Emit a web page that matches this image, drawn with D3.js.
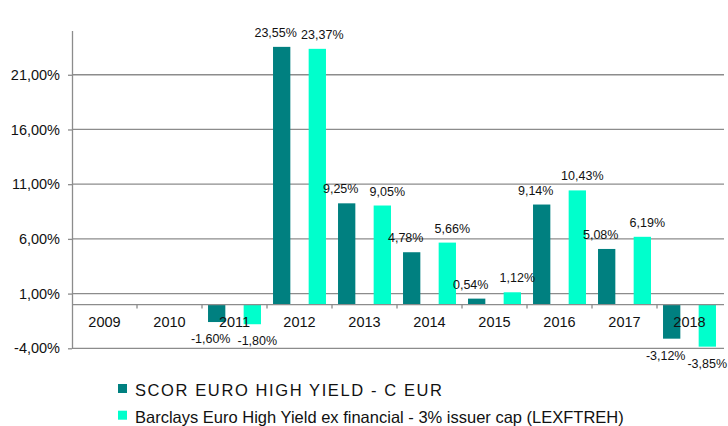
<!DOCTYPE html>
<html lang="en">
<head>
<meta charset="utf-8">
<script src="https://cdn.jsdelivr.net/npm/d3@7"></script>
<style>
  body { margin: 0; background: #fff; }
  svg { display: block; font-family: "Liberation Sans", Arial, sans-serif; }
</style>
</head>
<body>
<script>
// data
const years = ['2009', '2010', '2011', '2012', '2013', '2014', '2015', '2016', '2017', '2018'];
const seriesNames = ['SCOR EURO HIGH YIELD - C EUR', 'Barclays Euro High Yield ex financial - 3% issuer cap (LEXFTREH)'];
const scorValues = [null, null, -1.60, 23.55, 9.25, 4.78, 0.54, 9.14, 5.08, -3.12];
const barclaysValues = [null, null, -1.80, 23.37, 9.05, 5.66, 1.12, 10.43, 6.19, -3.85];
const yTicks = [-4, 1, 6, 11, 16, 21];

const colors = ['#008080', '#00ffcc'];
const labelShift = [-6, 5];          // excel nudges the labels apart a little
const legendSpacing = ['1.6px', '0px'];
const w = 728, h = 426;
const margin = { left: 72, right: 722, top: 31, bottom: 348.3 };

const fmt = d => d.toFixed(2).replace('.', ',') + '%';

const svg = d3.select('body').append('svg')
  .attr('width', w)
  .attr('height', h);

const x = d3.scaleBand().domain(years).range([margin.left, margin.right]).padding(0);
const x1 = d3.scaleBand().domain([0, 1]).range([0, x.bandwidth()])
  .paddingInner(0.514).paddingOuter(0.169);
const y = d3.scaleLinear().domain([-4, 25]).range([margin.bottom, margin.top]);

// gridlines
svg.append('g').selectAll('line')
  .data(yTicks)
  .enter().append('line')
  .attr('x1', margin.left).attr('x2', w - 4)
  .attr('y1', d => y(d)).attr('y2', d => y(d))
  .attr('stroke', '#8c8c8c').attr('stroke-width', 1.3);

// y axis
const yAxis = svg.append('g')
  .attr('transform', `translate(${margin.left},0)`)
  .call(d3.axisLeft(y).tickValues(yTicks).tickFormat(fmt).tickSize(4).tickPadding(8));
yAxis.select('.domain').attr('stroke', '#8c8c8c').attr('stroke-width', 1.3)
  .attr('d', `M0.5,${margin.top}V${margin.bottom}`);
yAxis.selectAll('.tick line').attr('stroke', '#8c8c8c').attr('stroke-width', 1.3);
yAxis.selectAll('.tick text').attr('font-size', 14.5).attr('fill', '#111')
  .attr('font-family', '"Liberation Sans", Arial, sans-serif');

// bars
const series = [scorValues, barclaysValues];
const bars = [];
series.forEach((vals, s) => {
  vals.forEach((v, i) => {
    if (v !== null) bars.push({ year: years[i], s: s, v: v });
  });
});

svg.append('g').selectAll('rect')
  .data(bars)
  .enter().append('rect')
  .attr('x', d => x(d.year) + x1(d.s))
  .attr('width', x1.bandwidth())
  .attr('y', d => y(Math.max(0, d.v)))
  .attr('height', d => Math.abs(y(d.v) - y(0)))
  .attr('fill', d => colors[d.s]);

// zero line and category ticks
svg.append('line')
  .attr('x1', margin.left).attr('x2', w - 4)
  .attr('y1', y(0)).attr('y2', y(0))
  .attr('stroke', '#8c8c8c').attr('stroke-width', 1.3);
svg.append('g').selectAll('line')
  .data(years.slice(1))
  .enter().append('line')
  .attr('x1', d => x(d)).attr('x2', d => x(d))
  .attr('y1', y(0)).attr('y2', y(0) + 4)
  .attr('stroke', '#8c8c8c').attr('stroke-width', 1.3);

// category labels
svg.append('g').selectAll('text')
  .data(years)
  .enter().append('text')
  .attr('x', d => x(d) + x.bandwidth() / 2)
  .attr('y', y(0) + 22)
  .attr('text-anchor', 'middle')
  .attr('font-size', 14.5)
  .attr('fill', '#111')
  .text(d => d);

// value labels
svg.append('g').selectAll('text')
  .data(bars)
  .enter().append('text')
  .attr('x', d => x(d.year) + x1(d.s) + x1.bandwidth() / 2 + labelShift[d.s])
  .attr('y', d => d.v >= 0 ? y(d.v) - 10 : y(d.v) + 21)
  .attr('text-anchor', 'middle')
  .attr('font-size', 12.5)
  .attr('fill', '#111')
  .text(d => fmt(d.v))
  .each(function() {
    // keep the last label inside the picture
    const half = this.getComputedTextLength() / 2;
    const cx = +this.getAttribute('x');
    if (cx + half > w - 1) this.setAttribute('x', w - 1 - half);
  });

// legend
const legend = svg.append('g').selectAll('g')
  .data(seriesNames)
  .enter().append('g')
  .attr('transform', (d, i) => `translate(118,${396 + i * 26.7})`);
legend.append('rect')
  .attr('x', 0).attr('y', -12)
  .attr('width', 9).attr('height', 9)
  .attr('fill', (d, i) => colors[i]);
legend.append('text')
  .attr('x', 17).attr('y', 0)
  .attr('font-size', 16.5)
  .attr('letter-spacing', (d, i) => legendSpacing[i])
  .attr('fill', '#111')
  .text(d => d);
</script>
</body>
</html>
